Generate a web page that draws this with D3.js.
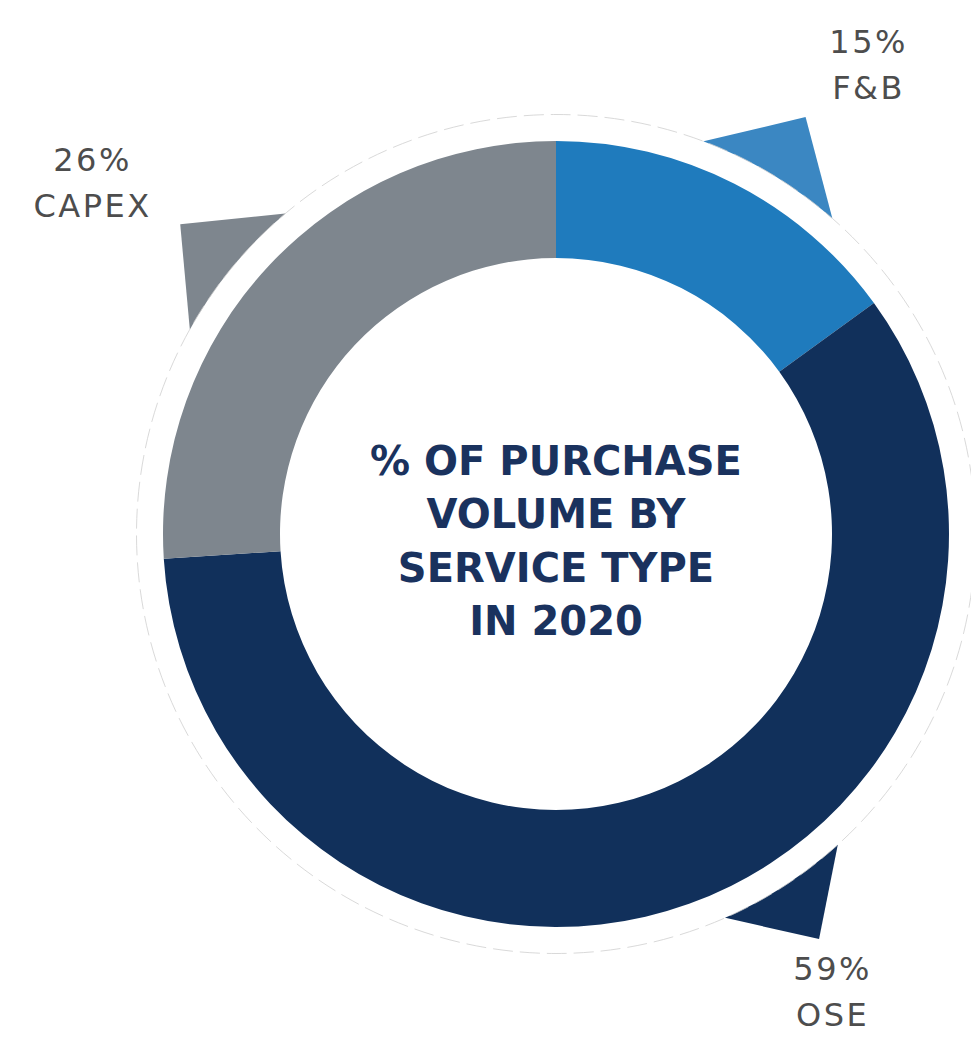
<!DOCTYPE html>
<html>
<head>
<meta charset="utf-8">
<script src="https://cdn.jsdelivr.net/npm/d3@7"></script>
<style>
  body { margin: 0; background: #fff; }
  svg { display: block; }
</style>
</head>
<body>
<svg id="chart"></svg>
<script>
// ---- data ----
var categories = ["F&B", "OSE", "CAPEX"];
var shares = [15, 59, 26];
var titleLines = ["% OF PURCHASE", "VOLUME BY", "SERVICE TYPE", "IN 2020"];

// ---- look ----
var sliceColors = ["#1f7bbd", "#11305b", "#7e868e"];
var pointerColors = ["#3b87c2", "#11305b", "#7e868e"];
// callout placement (degrees clockwise from top)
var pointerAngle = [30.9, 147, 309.5],
    pointerHalf = [10.3, 9.2, 10.3],
    pointerTip = [486, 483, 487];
var labelAngle = [33, 148.2, 308.1],
    labelRadius = [574, 525, 589];

var width = 971, height = 1040,
    cx = 556, cy = 534,
    outerR = 393, innerR = 276, ringR = 419.5;

var rad = Math.PI / 180;

var svg = d3.select("#chart")
    .attr("width", width)
    .attr("height", height);

var g = svg.append("g")
    .attr("transform", "translate(" + cx + "," + cy + ")");

var pie = d3.pie().sort(null).value(function(d) { return d; });
var arcs = pie(shares);

//------------- pointers (behind the ring) -------------
g.selectAll("path.pointer")
  .data(arcs)
  .enter()
  .append("path")
    .attr("class", "pointer")
    .attr("d", function(d, i) {
      var a = pointerAngle[i] * rad, h = pointerHalf[i] * rad;
      var pts = [
        [0, 0],
        d3.pointRadial(a - h, ringR),
        d3.pointRadial(a, pointerTip[i]),
        d3.pointRadial(a + h, ringR)
      ];
      return d3.line()(pts) + "Z";
    })
    .style("fill", function(d, i) { return pointerColors[i]; });

//------------- white ring -------------
g.append("circle")
    .attr("r", ringR)
    .style("fill", "#fff")
    .style("stroke", "#cfcfcf")
    .style("stroke-width", 0.8)
    .style("stroke-dasharray", "20,7");

//------------- donut -------------
var arc = d3.arc().innerRadius(innerR).outerRadius(outerR);

g.selectAll("path.slice")
  .data(arcs)
  .enter()
  .append("path")
    .attr("class", "slice")
    .attr("d", arc)
    .style("fill", function(d, i) { return sliceColors[i]; });

//------------- center title -------------
var lineGap = 53.3;
g.append("text")
    .attr("text-anchor", "middle")
    .style("font-family", "'DejaVu Sans', sans-serif")
    .style("font-weight", "bold")
    .style("font-size", "40px")
    .style("fill", "#1a325e")
  .selectAll("tspan")
  .data(titleLines)
  .enter()
  .append("tspan")
    .attr("x", 0)
    .attr("y", function(d, i) { return (i - (titleLines.length - 1) / 2) * lineGap + 21; })
    .text(function(d) { return d; });

//------------- labels -------------
var labels = g.selectAll("g.label")
  .data(arcs)
  .enter()
  .append("g")
    .attr("class", "label")
    .attr("transform", function(d, i) {
      var p = d3.pointRadial(labelAngle[i] * rad, labelRadius[i]);
      return "translate(" + p[0] + "," + p[1] + ")";
    });

labels.append("text")
    .attr("text-anchor", "middle")
    .style("font-family", "'DejaVu Sans', sans-serif")
    .style("font-size", "32px")
    .style("letter-spacing", "2.5px")
    .style("fill", "#4d4d4d")
  .selectAll("tspan")
  .data(function(d, i) { return [d.value + "%", categories[i]]; })
  .enter()
  .append("tspan")
    .attr("x", 0)
    .attr("y", function(d, j) { return j * 46; })
    .text(function(d) { return d; });
</script>
</body>
</html>
